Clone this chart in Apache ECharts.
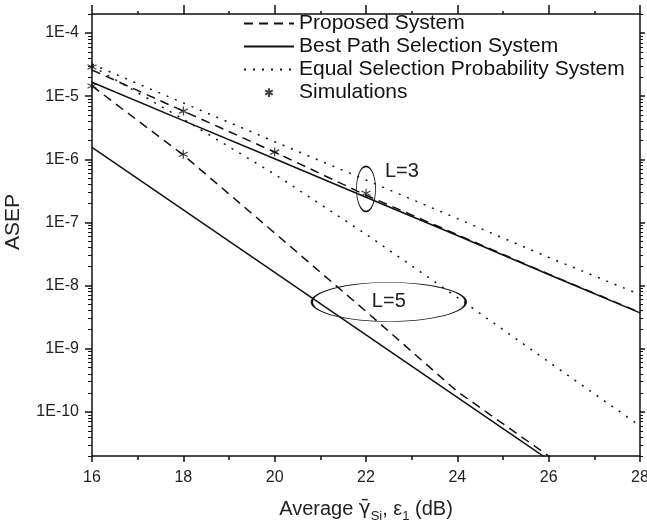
<!DOCTYPE html>
<html>
<head>
<meta charset="utf-8">
<script src="https://cdn.jsdelivr.net/npm/echarts@6/dist/echarts.min.js"></script>
<style>
  html, body { margin: 0; padding: 0; background: #fff; }
  #chart { width: 647px; height: 521px; }
</style>
</head>
<body>
<div id="chart"></div>
<script>
// average SNR (dB)
const snrDb = [16, 18, 20, 22, 24, 26, 28];

// ASEP, L = 3
const proposedL3 = [2.6e-5, 5.8e-6, 1.3e-6, 2.7e-7, 6.4e-8, 1.52e-8, 3.75e-9];
const bestPathL3 = [1.66e-5, 4.1e-6, 1.02e-6, 2.5e-7, 6.2e-8, 1.5e-8, 3.7e-9];
const equalL3 = [3.2e-5, 7.8e-6, 1.9e-6, 4.7e-7, 1.15e-7, 2.8e-8, 7.2e-9];

// ASEP, L = 5
const proposedL5 = [1.45e-5, 1.17e-6, 6.8e-8, 3.9e-9, 2.1e-10, 2.0e-11, 2.2e-12];
const bestPathL5 = [1.55e-6, 1.58e-7, 1.62e-8, 1.65e-9, 1.7e-10, 1.74e-11, 1.78e-12];
const equalL5 = [3.0e-5, 4.3e-6, 5.8e-7, 6.5e-8, 6.5e-9, 6.2e-10, 6e-11];

// simulation points [snr, asep]
const simPoints = [[16, 2.9e-5], [16, 1.45e-5], [18, 5.8e-6], [18, 1.2e-6], [20, 1.3e-6], [22, 2.9e-7]];

// y tick values (labelled decades)
const yTickValues = [1e-10, 1e-9, 1e-8, 1e-7, 1e-6, 1e-5, 1e-4];
const yMin = 2e-11;
const yMax = 2e-4;

// annotation ellipses (data coords)
const ellipseL3 = [22, 3.4e-7];
const ellipseL5 = [22.5, 5.5e-9];

const yMinorValues = [];
for (let e = -11; e <= -4; e++) {
  for (let m = 2; m <= 9; m++) {
    const v = m * Math.pow(10, e);
    if (v >= yMin && v <= yMax) yMinorValues.push(v);
  }
}

const FONT = 'Liberation Sans, Arial, sans-serif';
const INK = '#111';
const starPath = 'path://M5,0L5,10M0.67,2.5L9.33,7.5M0.67,7.5L9.33,2.5';
// same star with empty room around it so the legend draws it smaller
const starLegendPath = 'path://M-3,-3M13,13M5,0L5,10M0.67,2.5L9.33,7.5M0.67,7.5L9.33,2.5';
const dashed = [9, 6];
const dotted = [2, 7];

const pair = (ys) => snrDb.map((x, i) => [x, ys[i]]);

const lineSeries = (name, ys, type) => ({
  name,
  type: 'line',
  data: pair(ys),
  symbol: 'none',
  clip: true,
  lineStyle: { color: INK, width: 1.5, type },
  itemStyle: { color: INK },
  z: 3
});

const xBase = {
  type: 'value',
  min: 16,
  max: 28,
  interval: 2,
  splitLine: { show: false },
  axisLine: { show: true, lineStyle: { color: INK, width: 1.5 } }
};

const yBase = {
  type: 'log',
  logBase: 10,
  min: yMin,
  max: yMax,
  splitLine: { show: false },
  minorTick: { show: false },
  minorSplitLine: { show: false }
};

const option = {
  animation: false,
  backgroundColor: '#fff',
  textStyle: { fontFamily: FONT },
  grid: { left: 92, right: 7, top: 14, bottom: 65, containLabel: false, outerBoundsMode: 'none' },
  legend: {
    orient: 'vertical',
    left: 238,
    top: 8,
    itemWidth: 50,
    itemHeight: 14,
    itemGap: 2,
    selectedMode: false,
    textStyle: { fontSize: 21, color: INK, fontFamily: FONT, lineHeight: 21 },
    data: [
      { name: 'Proposed System', itemStyle: { opacity: 0 } },
      { name: 'Best Path Selection System', itemStyle: { opacity: 0 } },
      { name: 'Equal Selection Probability System', itemStyle: { opacity: 0 } },
      { name: 'Simulations', icon: starLegendPath }
    ]
  },
  xAxis: [
    Object.assign({}, xBase, {
      position: 'bottom',
      axisTick: { show: true, length: 6, lineStyle: { color: INK, width: 1.5 } },
      minorTick: { show: true, splitNumber: 2, length: 4, lineStyle: { color: INK, width: 1.5 } },
      axisLabel: { fontSize: 16, color: '#222', margin: 14, fontFamily: FONT },
      name: '{n|Average }{g|γ̄}{sub|Si}{n|, ε}{sub|1}{n| (dB)}',
      nameLocation: 'middle',
      nameGap: 43,
      nameTextStyle: {
        rich: {
          n: { fontSize: 20, color: '#222', fontFamily: FONT, lineHeight: 24, verticalAlign: 'top' },
          g: { fontSize: 20, color: '#222', fontFamily: 'DejaVu Sans', lineHeight: 24, verticalAlign: 'top' },
          sub: { fontSize: 13, color: '#222', fontFamily: FONT, lineHeight: 14, verticalAlign: 'top', padding: [11, 0, 0, 0] }
        }
      }
    }),
    Object.assign({}, xBase, {
      position: 'top',
      axisTick: { show: true, length: 9, lineStyle: { color: INK, width: 1.5 } },
      minorTick: { show: true, splitNumber: 2, length: 3, lineStyle: { color: INK, width: 1.5 } },
      axisLabel: { show: false }
    })
  ],
  yAxis: [
    Object.assign({}, yBase, {
      position: 'left',
      axisLine: { show: true, lineStyle: { color: INK, width: 1.5 } },
      axisTick: { show: true, length: 7, customValues: yTickValues, lineStyle: { color: INK, width: 1.5 } },
      axisLabel: {
        customValues: yTickValues,
        formatter: (v) => '1E' + Math.round(Math.log10(v)),
        fontSize: 16,
        color: '#222',
        margin: 13,
        fontFamily: FONT
      },
      name: 'ASEP',
      nameLocation: 'middle',
      nameGap: 68,
      nameTextStyle: { fontSize: 21, color: '#222', fontFamily: FONT, padding: [0, 0, 0, 26] }
    }),
    Object.assign({}, yBase, {
      position: 'left',
      axisLine: { show: false },
      axisTick: { show: true, length: 4, customValues: yMinorValues, lineStyle: { color: INK, width: 1 } },
      axisLabel: { show: false }
    }),
    Object.assign({}, yBase, {
      position: 'right',
      axisLine: { show: true, lineStyle: { color: INK, width: 1.5 } },
      axisTick: { show: true, length: 5, customValues: yTickValues, lineStyle: { color: INK, width: 1.5 } },
      axisLabel: { show: false }
    }),
    Object.assign({}, yBase, {
      position: 'right',
      axisLine: { show: false },
      axisTick: { show: true, length: 3, customValues: yMinorValues, lineStyle: { color: INK, width: 1 } },
      axisLabel: { show: false }
    })
  ],
  series: [
    lineSeries('Proposed System', proposedL3, dashed),
    lineSeries('Best Path Selection System', bestPathL3, 'solid'),
    Object.assign(lineSeries('Equal Selection Probability System', equalL3, dotted), {
      markPoint: {
        symbol: 'circle',
        silent: true,
        itemStyle: { color: 'rgba(0,0,0,0)', borderColor: INK, borderWidth: 1.2 },
        data: [
          {
            coord: ellipseL3,
            symbolSize: [19, 45],
            label: { show: true, formatter: 'L=3', position: 'right', distance: 6, offset: [3, -17], fontSize: 20, color: '#222', fontFamily: FONT }
          },
          {
            coord: ellipseL5,
            symbolSize: [154, 39],
            label: { show: true, formatter: 'L=5', position: 'inside', fontSize: 20, color: '#222', fontFamily: FONT }
          }
        ]
      }
    }),
    lineSeries('Proposed System', proposedL5, dashed),
    lineSeries('Best Path Selection System', bestPathL5, 'solid'),
    lineSeries('Equal Selection Probability System', equalL5, dotted),
    {
      name: 'Simulations',
      type: 'scatter',
      data: simPoints,
      symbol: starPath,
      symbolSize: 9,
      itemStyle: { color: 'rgba(0,0,0,0)', borderColor: INK, borderWidth: 1.2 },
      z: 5
    }
  ]
};

const myChart = echarts.init(document.getElementById('chart'), null, { renderer: 'canvas' });
myChart.setOption(option);
</script>
</body>
</html>
